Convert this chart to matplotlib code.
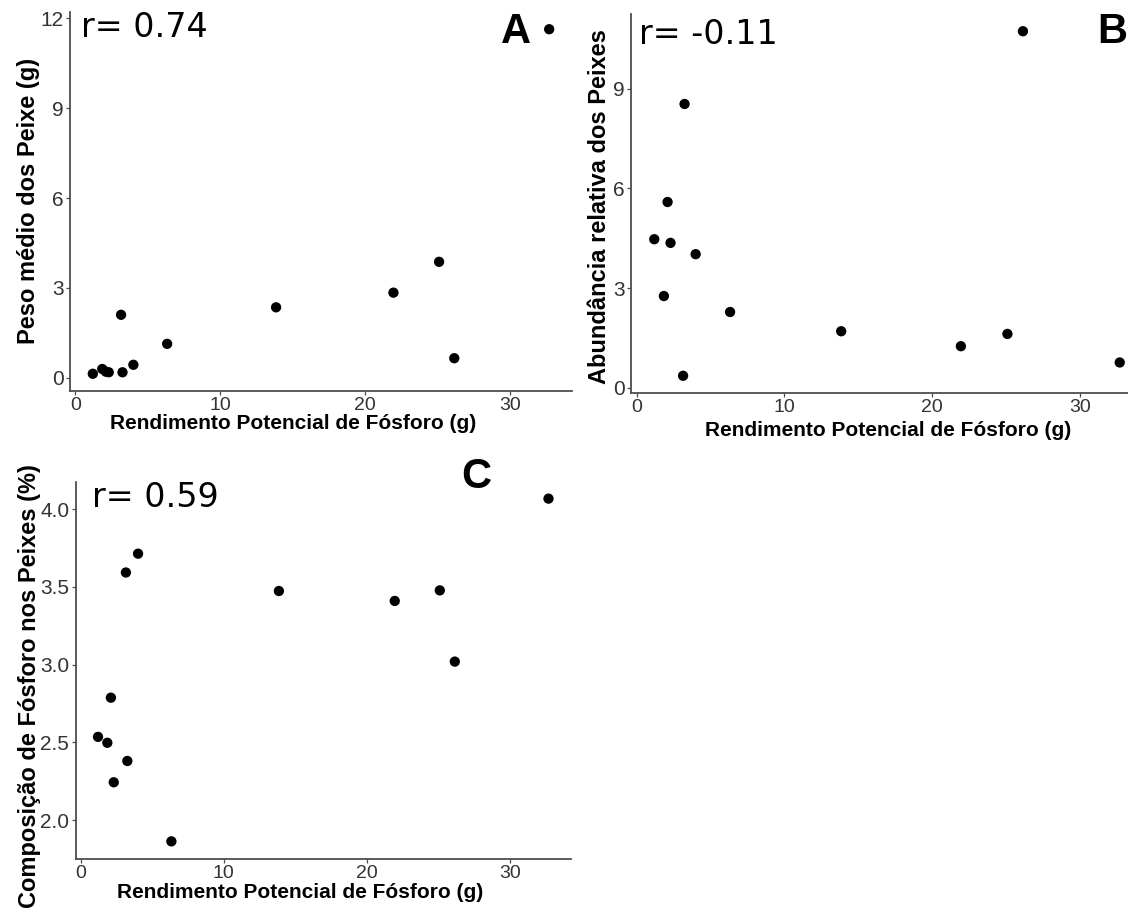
import numpy as np
import matplotlib
matplotlib.use("Agg")
import matplotlib.pyplot as plt

# data
rend_p = [1.2, 1.85, 2.1, 2.3, 3.15, 3.25, 4.0, 6.33, 13.85, 21.95, 25.1, 26.15, 32.7]
peso_medio = [0.13, 0.29, 0.2, 0.18, 2.1, 0.18, 0.43, 1.13, 2.35, 2.84, 3.87, 0.65, 11.64]
abundancia = [4.47, 2.76, 5.59, 4.36, 0.36, 8.54, 4.02, 2.28, 1.70, 1.25, 1.62, 10.73, 0.76]
comp_p = [2.536, 2.498, 2.788, 2.244, 3.593, 2.381, 3.714, 1.864, 3.474, 3.41, 3.478, 3.02, 4.068]

r_text = ["r= 0.74", "r= -0.11", "r= 0.59"]
panel_tags = ["A", "B", "C"]
xlab = "Rendimento Potencial de Fósforo (g)"
ylabs = ["Peso médio dos Peixe (g)", "Abundância relativa dos Peixes",
         "Composição de Fósforo nos Peixes (%)"]
yticks = [[0, 3, 6, 9, 12], [0, 3, 6, 9], [2.0, 2.5, 3.0, 3.5, 4.0]]

W, H = 1128, 911
plt.rcParams['font.family'] = ['Liberation Sans', 'DejaVu Sans']
fig = plt.figure(figsize=(W / 100, H / 100), dpi=100)


def box(l, r, t, b):
    return [l / W, 1 - b / H, (r - l) / W, (b - t) / H]


def fx(x):
    return x / W


def fy(y):
    return 1 - y / H


def expand(v):
    lo, hi = min(v), max(v)
    pad = 0.05 * (hi - lo)
    return lo - pad, hi + pad


boxes = [box(70, 572, 12, 391), box(631, 1143, 14, 393), box(75.5, 571, 481.5, 858.5)]
ys = [peso_medio, abundancia, comp_p]

for i in range(3):
    ax = fig.add_axes(boxes[i])
    ax.scatter(rend_p, ys[i], s=55, color='black', edgecolors='none', zorder=3,
               clip_on=False)
    ax.set_xlim(*expand(rend_p))
    ax.set_ylim(*expand(ys[i]))
    ax.set_xticks([0, 10, 20, 30])
    ax.set_yticks(yticks[i])
    if i == 2:
        ax.set_yticklabels(["%.1f" % t for t in yticks[i]])
    for s in ['top', 'right']:
        ax.spines[s].set_visible(False)
    for s in ['left', 'bottom']:
        ax.spines[s].set_color('#4d4d4d')
        ax.spines[s].set_linewidth(1.3)
    ax.tick_params(axis='both', length=3, width=0.9, color='#4d4d4d',
                   labelcolor='#333333', pad=1.5)
    ax.tick_params(axis='x', labelsize=14)
    ax.tick_params(axis='y', labelsize=15)

# axis titles
fig.text(fx(293), fy(423), xlab, fontsize=15, fontweight='bold', ha='center', va='center')
fig.text(fx(888), fy(431), xlab, fontsize=15, fontweight='bold', ha='center', va='center')
fig.text(fx(300), fy(893), xlab, fontsize=15, fontweight='bold', ha='center', va='center')
fig.text(fx(29), fy(201), ylabs[0], fontsize=17, fontweight='bold', rotation=90,
         ha='center', va='center')
fig.text(fx(599), fy(207), ylabs[1], fontsize=17, fontweight='bold', rotation=90,
         ha='center', va='center')
fig.text(fx(30), fy(686), ylabs[2], fontsize=17, fontweight='bold', rotation=90,
         ha='center', va='center')

# correlation text
r_pos = [(81, 37), (639, 44), (92, 507)]
for t, (x, y) in zip(r_text, r_pos):
    fig.text(fx(x), fy(y), t, fontsize=24, family='DejaVu Sans', ha='left', va='baseline')

# panel tags
tag_pos = [(501, 43), (1097, 43), (461, 488)]
for t, (x, y) in zip(panel_tags, tag_pos):
    fig.text(fx(x), fy(y), t, fontsize=30, fontweight='bold', ha='left', va='baseline')

fig.savefig("out.png", dpi=100)
